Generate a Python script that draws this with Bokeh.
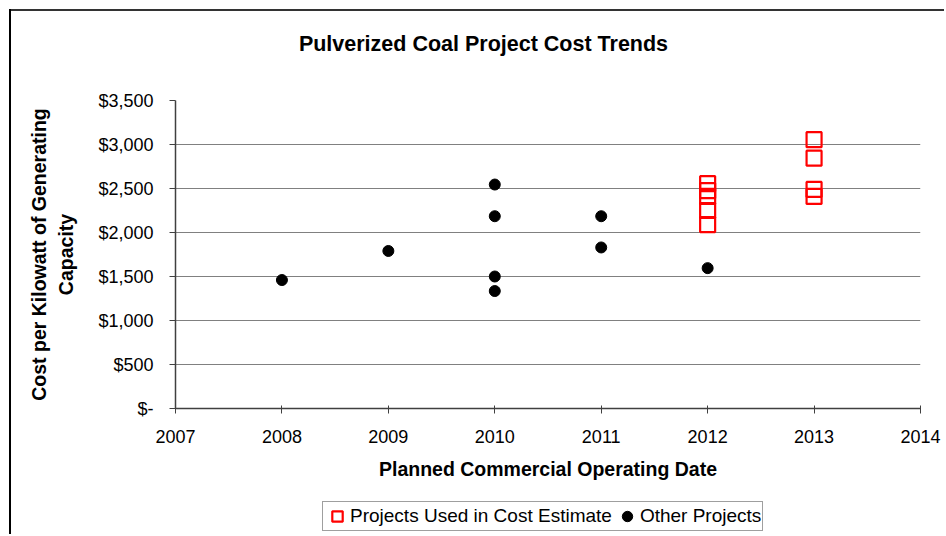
from bokeh.plotting import figure
from bokeh.layouts import column
from bokeh.models import Legend, LegendItem, FixedTicker, Range1d, Label
from bokeh.embed import file_html
from bokeh.resources import INLINE

# data
title_text = "Pulverized Coal Project Cost Trends"
used_years = [2012, 2012, 2012, 2012, 2012, 2013, 2013, 2013, 2013]
used_costs = [2555, 2475, 2410, 2250, 2090, 3055, 2845, 2490, 2410]
other_years = [2008, 2009, 2010, 2010, 2010, 2010, 2011, 2011, 2012]
other_costs = [1460, 1790, 2545, 2185, 1500, 1335, 2185, 1830, 1595]
x_ticks = [2007, 2008, 2009, 2010, 2011, 2012, 2013, 2014]
y_ticks = [0, 500, 1000, 1500, 2000, 2500, 3000, 3500]
y_tick_labels = ["$-", "$500", "$1,000", "$1,500", "$2,000", "$2,500", "$3,000", "$3,500"]

FONT = "Liberation Sans"
USED_STYLE = dict(marker="square", fill_color=None, line_color="#ff0000", line_width=2.2)
OTHER_STYLE = dict(marker="circle", fill_color="black", line_color="black")
LEFT_LINE = "linear-gradient(#000,#000) 9px 0px / 2px 100% no-repeat"


def strip(height):
    f = figure(width=944, height=height, output_backend="svg", toolbar_location=None,
               x_range=Range1d(0, 1), y_range=Range1d(0, 1),
               x_axis_type=None, y_axis_type=None, min_border=0)
    f.outline_line_color = None
    f.grid.visible = False
    f.background_fill_alpha = 0
    f.border_fill_alpha = 0
    return f


# title strip (its frame is aligned with the chart's frame)
top = strip(88)
top.styles = {"background":
              "linear-gradient(#000,#000) 9px 9px / 2px 100% no-repeat, "
              "linear-gradient(#333,#333) 9px 9px / 100% 2px no-repeat, #fff"}
top.add_layout(Label(x=0.4134, y=0.511, text=title_text, text_font=FONT,
                     text_font_style="bold", text_font_size="21.5px",
                     text_align="center", text_baseline="middle",
                     text_color="black"))

p = figure(width=944, height=402, output_backend="svg", toolbar_location=None,
           x_range=Range1d(2007, 2014), y_range=Range1d(0, 3500),
           min_border_left=175, min_border_right=24, min_border_top=12,
           min_border_bottom=82)
p.styles = {"background": LEFT_LINE + ", #fff"}
p.outline_line_color = None
p.background_fill_color = "white"
p.border_fill_alpha = 0

p.xgrid.visible = False
p.ygrid.ticker = FixedTicker(ticks=y_ticks)
p.ygrid.grid_line_color = "#808080"
p.ygrid.grid_line_width = 1

p.xaxis.ticker = FixedTicker(ticks=x_ticks)
p.yaxis.ticker = FixedTicker(ticks=y_ticks)
p.yaxis.major_label_overrides = {t: l for t, l in zip(y_ticks, y_tick_labels)}
p.xaxis.major_label_overrides = {t: str(t) for t in x_ticks}
for ax in (p.xaxis, p.yaxis):
    ax.axis_line_color = "#404040"
    ax.axis_line_width = 1.5
    ax.major_tick_line_color = "#404040"
    ax.minor_tick_line_color = None
    ax.major_label_text_font = FONT
    ax.major_label_text_font_size = "18px"
    ax.major_label_text_color = "black"
    ax.axis_label_text_font = FONT
    ax.axis_label_text_font_style = "bold"
    ax.axis_label_text_font_size = "19.5px"
    ax.axis_label_text_color = "black"
p.xaxis.major_tick_out = 5
p.xaxis.major_tick_in = 3
p.yaxis.major_tick_out = 6
p.yaxis.major_tick_in = 0
p.xaxis.major_label_standoff = 16
p.yaxis.major_label_standoff = 16

p.xaxis.axis_label = "Planned Commercial Operating Date"
p.xaxis.axis_label_standoff = 12
p.yaxis.axis_label = "Cost per Kilowatt of Generating\nCapacity"
p.yaxis.axis_label_text_line_height = 1.25
p.yaxis.axis_label_standoff = 18

p.scatter(used_years, used_costs, size=15, **USED_STYLE)
p.scatter(other_years, other_costs, size=11, **OTHER_STYLE)

# legend strip below the chart; its renderers hold a data point that lies
# outside the strip's 0..1 ranges, so only the legend glyphs are visible
lg = strip(44)
lg.styles = {"background": LEFT_LINE + ", #fff"}
lr_used = lg.scatter(used_years[:1], used_costs[:1], size=15, **USED_STYLE)
lr_other = lg.scatter(other_years[:1], other_costs[:1], size=11, **OTHER_STYLE)
legend = Legend(items=[LegendItem(label="Projects Used in Cost Estimate", renderers=[lr_used]),
                       LegendItem(label="Other Projects", renderers=[lr_other])],
                location=(147, 3), orientation="horizontal",
                label_text_font=FONT, label_text_font_size="19px",
                label_text_color="black", glyph_width=26, glyph_height=26,
                label_standoff=0, spacing=2, padding=1, margin=0,
                border_line_color="#404040", border_line_width=1,
                background_fill_color="white", background_fill_alpha=1)
lg.add_layout(legend, "center")

layout = column(top, p, lg, spacing=0)
open("out.html", "w").write(file_html(layout, INLINE))
